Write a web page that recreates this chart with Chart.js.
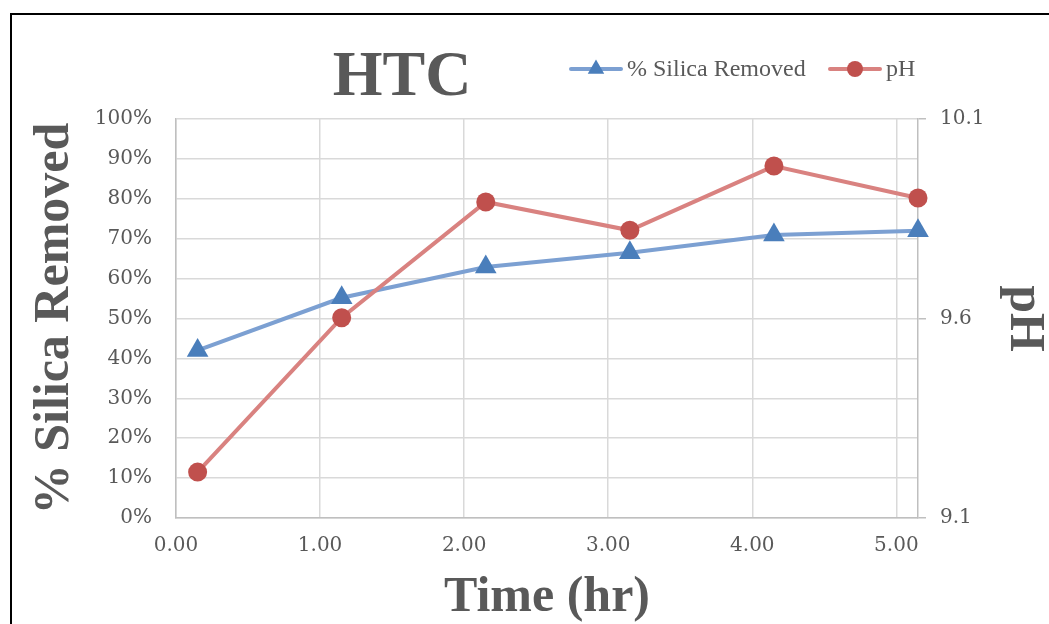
<!DOCTYPE html>
<html>
<head>
<meta charset="utf-8">
<script src="https://cdn.jsdelivr.net/npm/chart.js@4"></script>
<style>
  html, body { margin: 0; padding: 0; background: #fff; }
  #wrap { width: 1049px; height: 624px; }
</style>
</head>
<body>
<div id="wrap"><canvas id="htcChart" width="1049" height="624"></canvas></div>
<script>
// time (hr)
const timeHr = [0.15, 1.15, 2.15, 3.15, 4.15, 5.15];
// % silica removed (left axis)
const silicaRemoved = [42.0, 55.2, 62.9, 66.5, 70.9, 72.0];
// pH (right axis)
const phValues = [9.215, 9.602, 9.892, 9.821, 9.982, 9.902];

const xTicks = [0, 1, 2, 3, 4, 5];
const phTicks = [9.1, 9.6, 10.1];

const textGray = '#595959';
const gridGray = '#d9d9d9';

// outer frame + title + legend drawn on top of the chart
const decorations = {
    id: 'decorations',
    beforeDraw(chart) {
        const ctx = chart.ctx;
        ctx.save();
        ctx.fillStyle = '#fff';
        ctx.fillRect(0, 0, chart.width, chart.height);
        ctx.strokeStyle = '#000';
        ctx.lineWidth = 2;
        ctx.strokeRect(11, 14, 2000, 2000);
        ctx.restore();
    },
    afterDraw(chart) {
        const ctx = chart.ctx;
        ctx.save();
        ctx.fillStyle = textGray;
        ctx.font = 'bold 64px "Liberation Serif"';
        ctx.textAlign = 'center';
        ctx.textBaseline = 'alphabetic';
        ctx.fillText('HTC', 402, 95);

        // legend
        const items = [
            {ds: chart.data.datasets[0], x: 569, r: 9.5},
            {ds: chart.data.datasets[1], x: 828, r: 8}
        ];
        const y = 69;
        ctx.font = '24px "Liberation Serif"';
        ctx.textAlign = 'left';
        ctx.textBaseline = 'middle';
        items.forEach(it => {
            ctx.strokeStyle = it.ds.borderColor;
            ctx.lineWidth = 4;
            ctx.lineCap = 'round';
            ctx.beginPath();
            ctx.moveTo(it.x + 2, y);
            ctx.lineTo(it.x + 52, y);
            ctx.stroke();
            ctx.fillStyle = it.ds.pointBackgroundColor;
            ctx.strokeStyle = it.ds.pointBorderColor;
            Chart.helpers.drawPoint(ctx, {pointStyle: it.ds.pointStyle, radius: it.r, borderWidth: 0, rotation: 0}, it.x + 27, y);
            ctx.fillStyle = textGray;
            ctx.fillText(it.ds.label, it.x + 58, y + 1);
        });
        ctx.restore();
    }
};

let graphic = document.getElementById('htcChart');
let ctx = graphic.getContext('2d');

let htcChart = new Chart(ctx, {
    type: 'line',
    data: {
        datasets: [{
            label: '% Silica Removed',
            data: timeHr.map((t, i) => ({x: t, y: silicaRemoved[i]})),
            yAxisID: 'y',
            clip: false,
            borderColor: 'rgb(124,160,210)',
            borderWidth: 4,
            pointStyle: 'triangle',
            pointRadius: 12.5,
            pointHoverRadius: 12.5,
            pointBackgroundColor: 'rgb(74,126,187)',
            pointBorderColor: 'rgb(74,126,187)',
            pointBorderWidth: 0,
            order: 2
        }, {
            label: 'pH',
            data: timeHr.map((t, i) => ({x: t, y: phValues[i]})),
            yAxisID: 'y1',
            clip: false,
            borderColor: 'rgb(217,130,128)',
            borderWidth: 4,
            pointStyle: 'circle',
            pointRadius: 9.5,
            pointHoverRadius: 9.5,
            pointBackgroundColor: 'rgb(192,80,77)',
            pointBorderColor: 'rgb(192,80,77)',
            pointBorderWidth: 0,
            order: 1
        }]
    },
    options: {
        responsive: false,
        animation: false,
        layout: {
            padding: {top: 119, left: 0, right: 0, bottom: 0}
        },
        plugins: {
            legend: {display: false},
            title: {display: false},
            tooltip: {enabled: false}
        },
        scales: {
            x: {
                type: 'linear',
                min: 0,
                max: 5.15,
                afterBuildTicks: s => { s.ticks = xTicks.map(v => ({value: v})); },
                afterFit: s => { s.height = 106; },
                grid: {color: gridGray, lineWidth: 1.5, drawTicks: false},
                border: {color: '#bfbfbf', width: 1.5},
                ticks: {
                    color: textGray,
                    font: {family: '"DejaVu Serif"', size: 20},
                    padding: 16,
                    maxRotation: 0,
                    autoSkip: false,
                    callback: v => v.toFixed(2)
                },
                title: {
                    display: true,
                    text: 'Time (hr)',
                    color: textGray,
                    font: {family: '"Liberation Serif"', size: 50, weight: 'bold', lineHeight: 1},
                    padding: {top: 0, bottom: 1}
                }
            },
            y: {
                position: 'left',
                min: 0,
                max: 100,
                afterFit: s => { s.width = 176; },
                grid: {color: gridGray, lineWidth: 1.5, drawTicks: false},
                border: {color: '#bfbfbf', width: 1.5},
                ticks: {
                    stepSize: 10,
                    color: textGray,
                    font: {family: '"DejaVu Serif"', size: 20},
                    padding: 24,
                    callback: v => v + '%'
                },
                title: {
                    display: true,
                    text: '% Silica Removed',
                    color: textGray,
                    font: {family: '"Liberation Serif"', size: 50, weight: 'bold', lineHeight: 1},
                    padding: {top: 30, bottom: 0}
                }
            },
            y1: {
                position: 'right',
                min: 9.1,
                max: 10.1,
                afterBuildTicks: s => { s.ticks = phTicks.map(v => ({value: v})); },
                afterFit: s => { s.width = 131; },
                grid: {drawOnChartArea: false, color: '#bfbfbf', lineWidth: 1.5, tickLength: 8},
                border: {color: '#bfbfbf', width: 1.5},
                ticks: {
                    color: textGray,
                    font: {family: '"DejaVu Serif"', size: 20},
                    padding: 14,
                    callback: v => v.toFixed(1)
                },
                title: {
                    display: true,
                    text: 'pH',
                    color: textGray,
                    font: {family: '"Liberation Serif"', size: 50, weight: 'bold', lineHeight: 1},
                    padding: {top: 0, bottom: 0}
                }
            }
        }
    },
    plugins: [decorations]
});
</script>
</body>
</html>
